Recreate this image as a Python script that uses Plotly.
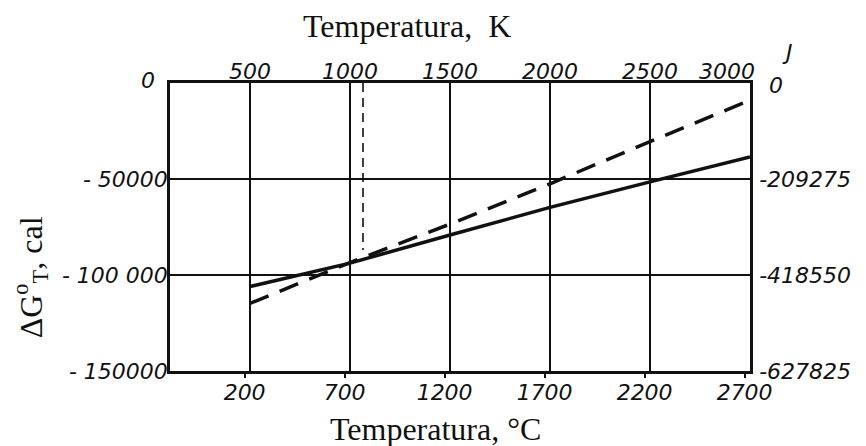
import plotly.graph_objects as go

# Standard free energy of the reaction vs temperature (Kelvin), in calories
temp_k = [500, 1000, 1500, 2000, 2500, 3000]
dg_solid = [-106000, -93800, -79200, -64800, -51500, -38500]
dg_dashed = [-114800, -93500, -73500, -52500, -30500, -9000]

# Thin vertical marker line
marker_k = [1065, 1065]
marker_dg = [0, -87000]

# Axis ticks
k_ticks = [500, 1000, 1500, 2000, 2500, 3000]
k_text = ["500", "1000", "1500", "2000", "2500", ""]
c_ticks = [200, 700, 1200, 1700, 2200, 2700]
cal_ticks = [0, -50000, -100000, -150000]
cal_text = ["", "- 50000", "- 100 000", "- 150000"]
joule_ticks = [0, -209275, -418550, -627825]
joule_text = ["", "-209275", "-418550", "-627825"]

K_MIN, K_MAX = 100, 3000
C_MIN, C_MAX = K_MIN - 273.15, K_MAX - 273.15
INK = "#111111"
tick_font = dict(family="DejaVu Sans", size=22, color=INK, style="italic")
title_font = dict(family="Liberation Serif", size=32, color=INK)

fig = go.Figure()

fig.add_trace(go.Scatter(
    x=temp_k, y=dg_solid, xaxis="x2", yaxis="y", mode="lines",
    line=dict(color=INK, width=3.5), showlegend=False, hoverinfo="skip"))
fig.add_trace(go.Scatter(
    x=temp_k, y=dg_dashed, xaxis="x2", yaxis="y", mode="lines",
    line=dict(color=INK, width=3.5, dash="20px,12px"), showlegend=False,
    hoverinfo="skip"))
fig.add_trace(go.Scatter(
    x=marker_k, y=marker_dg, xaxis="x2", yaxis="y", mode="lines",
    line=dict(color=INK, width=1.6, dash="9px,6px"), showlegend=False,
    hoverinfo="skip"))

# Invisible anchors so the Celsius and Joule axes are rendered
fig.add_trace(go.Scatter(
    x=[C_MIN, C_MAX], y=[-150000, 0], xaxis="x", yaxis="y", mode="lines",
    line=dict(width=0, color="rgba(0,0,0,0)"), showlegend=False,
    hoverinfo="skip"))
fig.add_trace(go.Scatter(
    x=[C_MIN, C_MAX], y=[-627825, 0], xaxis="x", yaxis="y2", mode="lines",
    line=dict(width=0, color="rgba(0,0,0,0)"), showlegend=False,
    hoverinfo="skip"))

fig.update_layout(
    width=866, height=446,
    margin=dict(l=170, r=116, t=83, b=75),
    paper_bgcolor="white", plot_bgcolor="white",
    xaxis=dict(
        range=[C_MIN, C_MAX], tickvals=c_ticks,
        showgrid=False, zeroline=False, ticks="outside", ticklen=4,
        tickwidth=2, tickcolor=INK, showline=True, linewidth=2.5,
        linecolor=INK, tickfont=tick_font, ticklabelstandoff=-4),
    xaxis2=dict(
        range=[K_MIN, K_MAX], tickvals=k_ticks, ticktext=k_text,
        overlaying="x", side="top",
        showgrid=True, gridcolor=INK, gridwidth=2, zeroline=False,
        ticks="", showline=True, linewidth=2.5, linecolor=INK,
        tickfont=tick_font, ticklabelstandoff=-8),
    yaxis=dict(
        range=[-150000, 0], tickvals=cal_ticks, ticktext=cal_text,
        showgrid=True, gridcolor=INK, gridwidth=2, zeroline=False,
        ticks="", showline=True, linewidth=2.5, linecolor=INK,
        tickfont=tick_font, ticklabelstandoff=-5),
    yaxis2=dict(
        range=[-627825, 0], tickvals=joule_ticks, ticktext=joule_text,
        overlaying="y", side="right", showgrid=False, zeroline=False,
        ticks="", showline=True, linewidth=2.5, linecolor=INK,
        tickfont=tick_font, ticklabelstandoff=2),
    annotations=[
        dict(text="Temperatura,  K", xref="paper", yref="paper",
             x=0.409, y=1.198, xanchor="center", yanchor="middle",
             showarrow=False, font=title_font),
        dict(text="Temperatura, °C", xref="paper", yref="paper",
             x=0.457, y=-0.203, xanchor="center", yanchor="middle",
             showarrow=False, font=title_font),
        dict(text="ΔG<sup>o</sup><sub>T</sub>, cal", xref="paper",
             yref="paper", x=-0.241, y=0.326, xanchor="center",
             yanchor="middle", showarrow=False, textangle=-90,
             font=dict(family="Liberation Serif", size=32, color=INK)),
        # last Kelvin label, nudged left to clear the Joule-axis zero
        dict(text=str(k_ticks[-1]), xref="paper", yref="paper",
             x=0.96, y=1.04, xanchor="center", yanchor="middle",
             showarrow=False, font=tick_font),
        dict(text="0", xref="paper", yref="paper", x=-0.038, y=1.01,
             xanchor="center", yanchor="middle", showarrow=False,
             font=tick_font),
        dict(text="0", xref="paper", yref="paper", x=1.045, y=0.99,
             xanchor="center", yanchor="middle", showarrow=False,
             font=tick_font),
        dict(text="J", xref="paper", yref="paper", x=1.064, y=1.105,
             xanchor="center", yanchor="middle", showarrow=False,
             font=tick_font),
    ],
)

fig.write_html("out.html")
